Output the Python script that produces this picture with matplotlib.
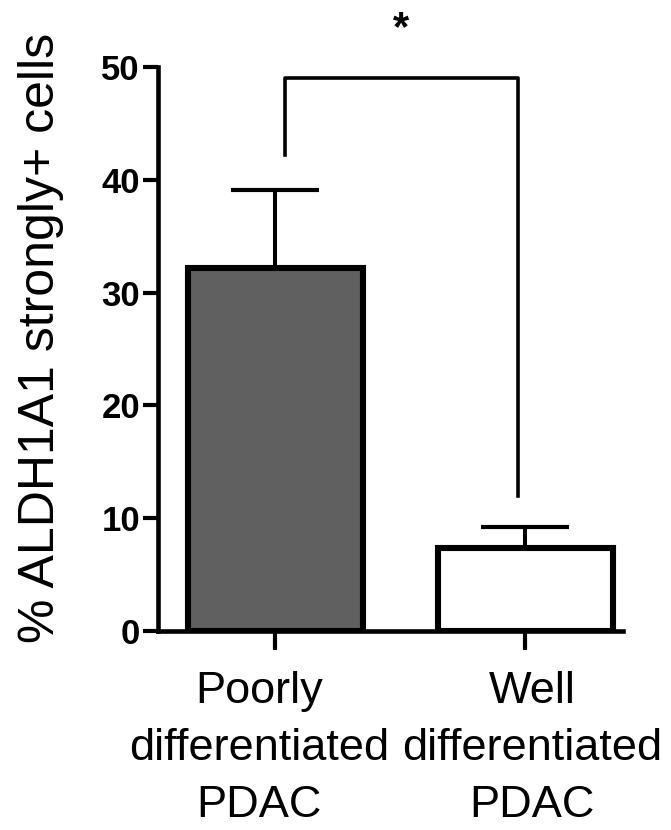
import matplotlib
matplotlib.use("Agg")
import matplotlib.pyplot as plt
from matplotlib.transforms import ScaledTranslation

plt.rcParams['font.family'] = ['Liberation Sans', 'DejaVu Sans']

categories = ["Poorly\ndifferentiated\nPDAC", "Well\ndifferentiated\nPDAC"]
means = [32.2, 7.4]
errors = [6.9, 1.8]
bar_colors = ["#606060", "#ffffff"]
yticks = [0, 10, 20, 30, 40, 50]
ylabel = "% ALDH1A1 strongly+ cells"
sig_label = "*"
sig_left_y = 42.2
sig_right_y = 12.0
sig_top = 49.0

fig = plt.figure(figsize=(6.71, 8.30), dpi=100)
ax = fig.add_axes([158/671, 1-631/830, (623-158)/671, (631-67)/830])

x = [0, 1]
ax.bar(x, means, width=0.70, color=bar_colors, edgecolor="black", linewidth=4.4, zorder=3)
ax.errorbar(x, means, yerr=[[0, 0], errors], fmt="none", ecolor="black",
            elinewidth=2.9, capsize=32, capthick=3.0, zorder=2)

ax.set_xlim(-0.468, 1.392)
ax.set_ylim(0, 50)
ax.set_yticks(yticks)
ax.set_yticklabels([str(t) for t in yticks], fontsize=25, fontweight="bold")
ax.set_xticks(x)
ax.set_xticklabels(categories, fontsize=32.5, linespacing=1.49)
ax.tick_params(axis="y", length=11, width=3.0, pad=2)
ax.tick_params(axis="x", length=14, width=3.0, pad=15)
for s in ["top", "right"]:
    ax.spines[s].set_visible(False)
for s in ["left", "bottom"]:
    ax.spines[s].set_linewidth(3.3)
ax.set_ylabel(ylabel, fontsize=36)
ax.yaxis.set_label_coords((64 - 158) / 465, 0.52)

# nudge the category labels apart as in the original layout
shifts = [-16, 7]
for lab, dx in zip(ax.get_xticklabels(), shifts):
    lab.set_transform(lab.get_transform() + ScaledTranslation(dx / 100, 0, fig.dpi_scale_trans))

# significance bracket
bx0, bx1 = 0.04, 0.97
ax.plot([bx0, bx0, bx1, bx1], [sig_left_y, sig_top, sig_top, sig_right_y],
        color="black", lw=2.6, clip_on=False, zorder=4)
ax.text((bx0 + bx1) / 2, sig_top + 2.6, sig_label, ha="center", va="bottom",
        fontsize=30, fontweight="bold", clip_on=False)

fig.savefig("out.png", dpi=100)
